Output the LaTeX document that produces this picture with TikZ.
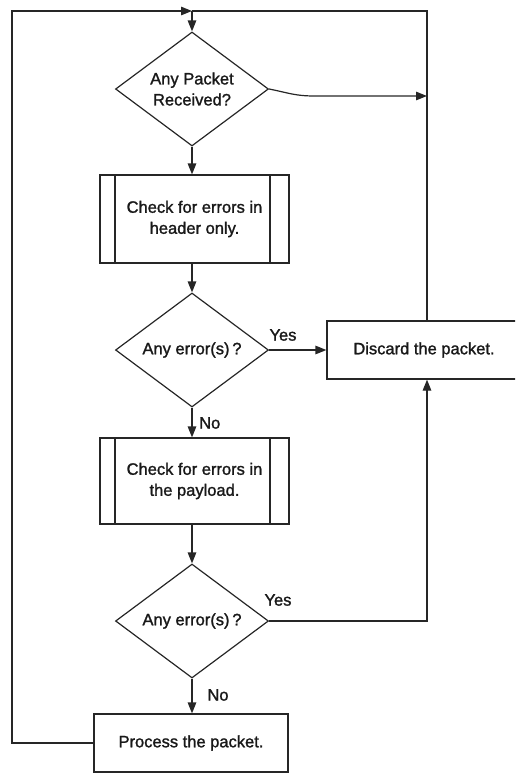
\documentclass[tikz,border=0pt]{standalone}
\usepackage{fontspec}
\setmainfont{Liberation Sans}[FakeBold=1.4]
\usetikzlibrary{shapes.geometric,arrows.meta}
\begin{document}
\begin{tikzpicture}[x=1pt,y=-1pt,
  every node/.style={font=\fontsize{16.5}{21}\selectfont, text=black!90},
  flow/.style={line width=1.2pt, draw=black!85},
  arr/.style={flow, -{Triangle[length=11pt,width=8.5pt]}},
  decision/.style={draw=black!85, line width=1.2pt, shape=diamond, aspect=1.34,
    inner sep=0pt, minimum width=153pt, minimum height=114pt, align=center},
  subproc/.style={draw=black!85, line width=1.2pt, rectangle, inner sep=0pt,
    minimum width=189pt, minimum height=#1, align=center,
    path picture={
      \draw[black!85, line width=1.2pt]
        ([xshift=15pt]path picture bounding box.north west) --
        ([xshift=15pt]path picture bounding box.south west);
      \draw[black!85, line width=1.2pt]
        ([xshift=-19pt]path picture bounding box.north east) --
        ([xshift=-19pt]path picture bounding box.south east);}},
  action/.style={draw=black!85, line width=1.2pt, rectangle, inner sep=0pt,
    minimum width=194pt, minimum height=58pt, align=center},
  tag/.style={inner sep=0pt}
]
\useasboundingbox (0,0) rectangle (515,774);
\clip (0,0) rectangle (515,774);

% nodes
\node[decision] (rx)   at (192,89)    {Any Packet\\Received?};
\node[subproc=88pt] (hdr) at (194.5,219) {Check for errors in\\header only.};
\node[decision] (err1) at (192,350)   {Any error(s)\,?};
\node[subproc=86pt] (pay) at (194.5,481) {Check for errors in\\the payload.};
\node[decision] (err2) at (192,621)   {Any error(s)\,?};
\node[action] (proc)   at (191,743)   {Process the packet.};
\node[action] (disc)   at (424,350)   {Discard the packet.};

% junction points of the return loops
\coordinate (top)  at (192,11);
\coordinate (rtop) at (427,11);
\coordinate (ltop) at (12,11);
\coordinate (join) at (427,96);

% main flow
\draw[arr] (top) -- (rx.north);
\draw[arr] (rx.south) -- (rx.south |- hdr.north);
\draw[arr] (rx.south |- hdr.south) -- (err1.north);
\draw[arr] (err1.south) -- (err1.south |- pay.north);
\draw[arr] (err1.south |- pay.south) -- (err2.north);
\draw[arr] (err2.south) -- (err2.south |- proc.north);

% branches to discard
\draw[arr] (err1.east) -- (err1.east -| disc.west);
\draw[arr] (err2.east) -- (err2.east -| join) -- (join |- disc.south);
\draw[arr] (rx.east) .. controls +(20,4) and +(-20,0) .. (315,96) -- (join);

% return loops
\draw[flow] (join |- disc.north) -- (rtop) -- (top);
\draw[arr] (proc.west) -- (ltop |- proc.west) -- (ltop) -- (top);

% branch labels
\node[tag] (y1) at (283,335) {Yes};
\node[tag, anchor=west] (n1) at (199,423) {No};
\node[tag] (y2) at (278,600) {Yes};
\node[tag] (n2) at (218,695) {No};
\end{tikzpicture}
\end{document}
